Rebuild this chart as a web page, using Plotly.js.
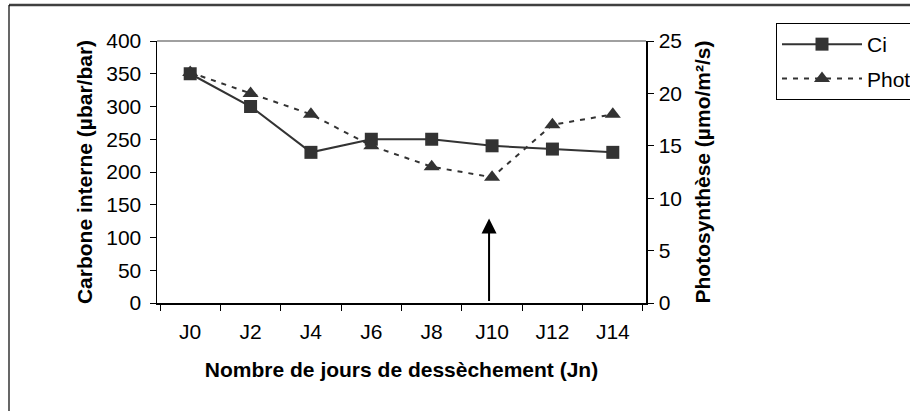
<!DOCTYPE html>
<html>
<head>
<meta charset="utf-8">
<script src="https://cdn.plot.ly/plotly-3.0.1.min.js"></script>
<style>html,body{margin:0;padding:0;background:#fff;}#chart{width:910px;height:411px;}</style>
</head>
<body>
<div id="chart"></div>
<script>
const days = ['J0', 'J2', 'J4', 'J6', 'J8', 'J10', 'J12', 'J14'];
const ciValues = [350, 300, 230, 250, 250, 240, 235, 230];
const photValues = [22, 20, 18, 15, 13, 12, 17, 18];
const leftTicks = [0, 50, 100, 150, 200, 250, 300, 350, 400];
const rightTicks = [0, 5, 10, 15, 20, 25];
const arrowDay = 'J10';
const arrowValue = 129;

const FONT = '"Liberation Sans", Arial, sans-serif';
const INK = '#333333';
const FS = 21;

const traces = [
  {
    x: days, y: photValues, name: 'Phot', yaxis: 'y2', type: 'scatter', mode: 'lines+markers',
    line: {color: INK, width: 2, dash: '5px,6px'},
    marker: {symbol: 'triangle-up', size: 14, color: INK},
    legendrank: 2, legendgroup: 'b'
  },
  {
    x: days, y: ciValues, name: 'Ci', yaxis: 'y', type: 'scatter', mode: 'lines+markers',
    line: {color: INK, width: 2},
    marker: {symbol: 'square', size: 13, color: INK},
    legendrank: 1, legendgroup: 'a'
  }
];

const layout = {
  width: 910, height: 411,
  margin: {l: 157, r: 264, t: 41, b: 108, autoexpand: false},
  paper_bgcolor: '#ffffff', plot_bgcolor: '#ffffff',
  font: {family: FONT, size: FS, color: '#000'},
  showlegend: true,
  legend: {
    x: (776 - 157) / 489, y: (303 - 23) / 262, xanchor: 'left', yanchor: 'top',
    bordercolor: '#000', borderwidth: 1, bgcolor: '#fff',
    font: {family: FONT, size: FS, color: '#000'},
    itemwidth: 80, tracegroupgap: 4
  },
  xaxis: {
    type: 'category', categoryorder: 'array', categoryarray: days,
    showline: true, linecolor: '#000', linewidth: 1.5,
    ticks: 'outside', ticklen: 6, tickcolor: '#000', tickson: 'boundaries',
    ticklabelstandoff: 9,
    showgrid: false, zeroline: false, fixedrange: true,
    tickfont: {family: FONT, size: FS, color: '#000'},
    title: {text: 'Nombre de jours de dessèchement (Jn)', font: {family: FONT, size: FS, color: '#000', weight: 'bold'}, standoff: 20}
  },
  yaxis: {
    range: [0, 400], tickvals: leftTicks, ticktext: leftTicks.map(String),
    showline: true, linecolor: '#000', linewidth: 1.5,
    ticks: 'outside', ticklen: 6, tickcolor: '#000',
    ticklabelstandoff: 4,
    showgrid: false, zeroline: false, fixedrange: true,
    tickfont: {family: FONT, size: FS, color: '#000'},
    title: {text: 'Carbone interne (µbar/bar)', font: {family: FONT, size: FS, color: '#000', weight: 'bold'}, standoff: 8}
  },
  yaxis2: {
    range: [0, 25], tickvals: rightTicks, ticktext: rightTicks.map(String),
    overlaying: 'y', side: 'right', anchor: 'x',
    showline: true, linecolor: '#000', linewidth: 1.5,
    ticks: 'outside', ticklen: 6, tickcolor: '#000',
    ticklabelstandoff: 1,
    showgrid: false, zeroline: false, fixedrange: true,
    tickfont: {family: FONT, size: FS, color: '#000'},
    title: {text: 'Photosynthèse (µmo/m²/s)', font: {family: FONT, size: FS, color: '#000', weight: 'bold'}, standoff: 14}
  },
  shapes: [
    {type: 'line', xref: 'paper', yref: 'paper', x0: 0, x1: 1, y0: 1, y1: 1, line: {color: '#808080', width: 1.5}},
    {type: 'line', xref: 'paper', yref: 'paper', x0: (9 - 157) / 489, x1: 1.7, y0: (303 - 5) / 262, y1: (303 - 5) / 262, line: {color: '#404040', width: 2.5}},
    {type: 'line', xref: 'paper', yref: 'paper', x0: (9 - 157) / 489, x1: (9 - 157) / 489, y0: (303 - 5) / 262, y1: -0.5, line: {color: '#000', width: 1.2}}
  ],
  annotations: [
    {x: days.indexOf(arrowDay), y: arrowValue, xref: 'x', yref: 'y', text: '', showarrow: true,
     ax: 0, ay: 84, xshift: -3, arrowhead: 2, arrowsize: 1.5, arrowwidth: 2, arrowcolor: '#000'}
  ]
};

Plotly.newPlot('chart', traces, layout, {staticPlot: true, displayModeBar: false});
</script>
</body>
</html>
